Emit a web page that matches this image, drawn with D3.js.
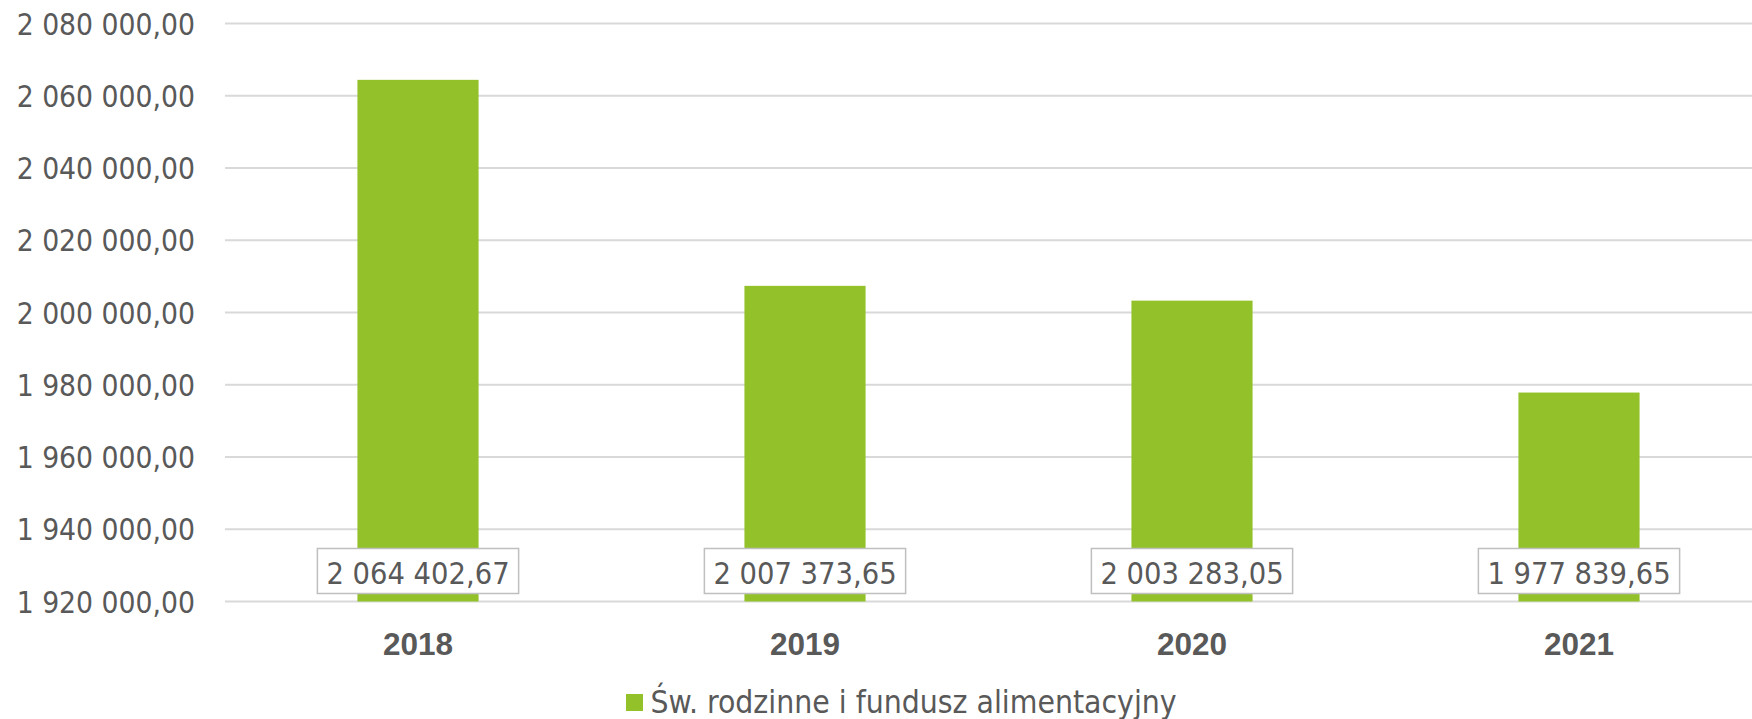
<!DOCTYPE html>
<html><head><meta charset="utf-8">
<script src="https://cdn.jsdelivr.net/npm/d3@7"></script>
<style>
html,body{margin:0;padding:0;background:#fff;}
svg{display:block;}
</style></head>
<body>
<svg id="chart" width="1752" height="719"></svg>
<script>
const categories = ["2018", "2019", "2020", "2021"];
const values = [2064402.67, 2007373.65, 2003283.05, 1977839.65];
const seriesName = "Św. rodzinne i fundusz alimentacyjny";
const yTicks = [1920000, 1940000, 1960000, 1980000, 2000000, 2020000, 2040000, 2060000, 2080000];

const W = 1752, H = 719;
const svg = d3.select("#chart");
const FONT = "'Liberation Sans Narrow', 'DejaVu Sans Condensed', sans-serif";
const TXT = "#595959";
const GREEN = "#92C12A";

const fmt = v => {
  const parts = v.toFixed(2).split(".");
  const intPart = parts[0].replace(/\B(?=(\d{3})+(?!\d))/g, " ");
  return intPart + "," + parts[1];
};

const y = d3.scaleLinear().domain([1920000, 2080000]).range([601.5, 23.5]);
const x = d3.scaleBand().domain(categories).range([224.5, 1772.5]).paddingInner(0.687).paddingOuter(0.3435);

// gridlines
svg.append("g").selectAll("line").data(yTicks).join("line")
  .attr("x1", 225).attr("x2", W)
  .attr("y1", d => y(d)).attr("y2", d => y(d))
  .attr("stroke", "#d9d9d9").attr("stroke-width", 2);

// y axis labels
const yAxis = d3.axisLeft(y).tickValues(yTicks).tickSize(0).tickPadding(0).tickFormat(fmt);
const gy = svg.append("g").attr("transform", "translate(195,0)").call(yAxis);
gy.select(".domain").remove();
gy.selectAll("text").attr("font-family", FONT).attr("font-size", 29.7).attr("fill", TXT).attr("dy", "0.36em");

// bars
svg.append("g").selectAll("rect").data(values).join("rect")
  .attr("x", (d, i) => x(categories[i]))
  .attr("width", x.bandwidth())
  .attr("y", d => y(d))
  .attr("height", d => y(1920000) - y(d))
  .attr("fill", GREEN);

// x axis labels
const xAxis = d3.axisBottom(x).tickSize(0).tickPadding(0);
const gx = svg.append("g").attr("transform", "translate(0,655)").call(xAxis);
gx.select(".domain").remove();
gx.selectAll("text").attr("font-family", "'Liberation Sans', sans-serif").attr("font-weight", "bold")
  .attr("font-size", 31.5).attr("fill", TXT).attr("dy", 0).attr("y", 0);

// data labels
const lg = svg.append("g");
values.forEach((v, i) => {
  const cx = x(categories[i]) + x.bandwidth() / 2;
  const g = lg.append("g");
  const t = g.append("text").attr("x", cx).attr("y", 583.5).attr("text-anchor", "middle")
    .attr("font-family", FONT).attr("font-size", 30.5).attr("fill", TXT).text(fmt(v));
  const bb = t.node().getBBox();
  const bw = bb.width + 18;
  g.insert("rect", "text").attr("x", cx - bw / 2).attr("y", 548.5).attr("width", bw).attr("height", 45)
    .attr("fill", "#fff").attr("stroke", "#bfbfbf").attr("stroke-width", 1.5);
});

// legend
const leg = svg.append("g");
leg.append("rect").attr("x", 626).attr("y", 694).attr("width", 17).attr("height", 17).attr("fill", GREEN);
leg.append("text").attr("x", 650.5).attr("y", 712.5).attr("font-family", FONT).attr("font-size", 31.6)
  .attr("fill", TXT).text(seriesName);
</script>
</body></html>
